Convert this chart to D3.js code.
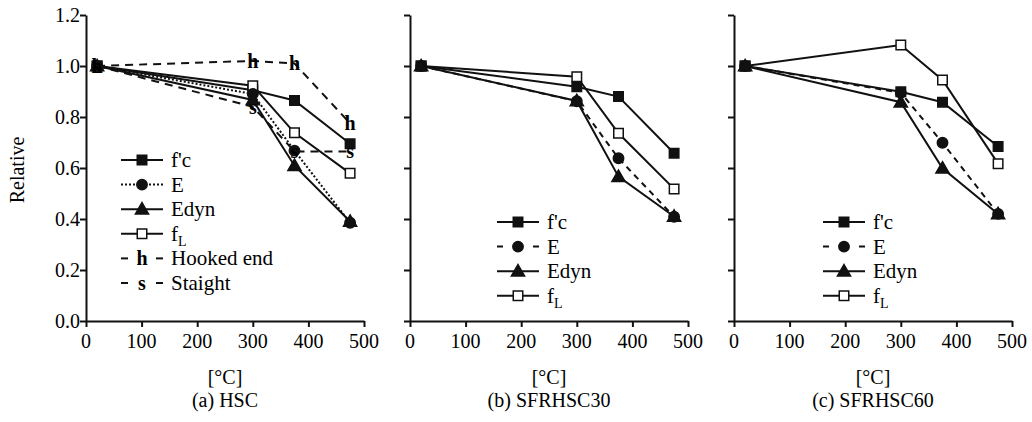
<!DOCTYPE html>
<style>
body { margin: 0; background: #fff; }
</style>
<svg width="1032" height="422"></svg>
<script src="https://cdn.jsdelivr.net/npm/d3@7"></script>
<script>

// temperatures where the specimens were measured
var temps = [20, 300, 375, 475];

// (a) HSC
var hscFc = [1.0, 0.905, 0.865, 0.695];
var hscE = [1.0, 0.89, 0.668, 0.385];
var hscEdyn = [1.0, 0.867, 0.609, 0.39];
var hscFl = [1.0, 0.923, 0.738, 0.579];
var hscHooked = [1.0, 1.02, 1.01, 0.775];
var hscStraight = [1.0, 0.84, 0.665, 0.665];

// (b) SFRHSC30
var s30Fc = [1.0, 0.919, 0.88, 0.658];
var s30E = [1.0, 0.862, 0.638, 0.409];
var s30Edyn = [1.0, 0.863, 0.566, 0.41];
var s30Fl = [1.0, 0.958, 0.736, 0.518];

// (c) SFRHSC60
var s60Fc = [1.0, 0.899, 0.858, 0.684];
var s60E = [1.0, 0.895, 0.699, 0.42];
var s60Edyn = [1.0, 0.858, 0.599, 0.42];
var s60Fl = [1.0, 1.082, 0.945, 0.617];

var yTicks = [0, 0.2, 0.4, 0.6, 0.8, 1.0, 1.2];
var xTicks = [0, 100, 200, 300, 400, 500];
var captions = ["(a) HSC", "(b) SFRHSC30", "(c) SFRHSC60"];

var svg = d3.select("svg");

function txt(sel, size) {
  return sel.style("font-family", "Liberation Serif").attr("font-size", size);
}

// series styles: marker kind + dash
var styles = {
  fc:   {sym: "square", fill: "#111", dash: null},
  E:    {sym: "circle", fill: "#111", dash: "6,5"},
  Edyn: {sym: "triangle", fill: "#111", dash: null},
  fL:   {sym: "square", fill: "#fff", dash: null},
  h:    {sym: "h", dash: "8,6"},
  s:    {sym: "s", dash: "8,6"}
};

var panels = [
  {left: 86, series: [
    {key: "fc", v: hscFc}, {key: "fL", v: hscFl}, {key: "E", v: hscE, dash: "2,2"},
    {key: "Edyn", v: hscEdyn}, {key: "h", v: hscHooked}, {key: "s", v: hscStraight}],
   legend: [["fc", "f'c"], ["E", "E", "2,2"], ["Edyn", "Edyn"], ["fL", "f", "L"], ["h", "Hooked end"], ["s", "Staight"]],
   legX: 121, legY: 160},
  {left: 410, series: [
    {key: "fc", v: s30Fc}, {key: "fL", v: s30Fl}, {key: "E", v: s30E}, {key: "Edyn", v: s30Edyn}],
   legend: [["fc", "f'c"], ["E", "E"], ["Edyn", "Edyn"], ["fL", "f", "L"]],
   legX: 497, legY: 222},
  {left: 734, series: [
    {key: "fc", v: s60Fc}, {key: "fL", v: s60Fl}, {key: "E", v: s60E}, {key: "Edyn", v: s60Edyn}],
   legend: [["fc", "f'c"], ["E", "E"], ["Edyn", "Edyn"], ["fL", "f", "L"]],
   legX: 823, legY: 222}
];

var y = d3.scaleLinear().domain([0, 1.2]).range([321, 15]);

function drawMarker(g, kind, fill, cx, cy) {
  if (kind === "h" || kind === "s") {
    txt(g.append("text"), 20)
      .attr("font-weight", "bold")
      .attr("x", cx).attr("y", cy + 7)
      .attr("text-anchor", "middle")
      .text(kind);
    return;
  }
  var type = kind === "square" ? d3.symbolSquare : kind === "circle" ? d3.symbolCircle : d3.symbolTriangle;
  var size = kind === "square" ? 90 : kind === "circle" ? 85 : 75;
  g.append("path")
    .attr("d", d3.symbol().type(type).size(size)())
    .attr("transform", "translate(" + cx + "," + (kind === "triangle" ? cy + 1 : cy) + ")")
    .attr("fill", fill)
    .attr("stroke", "#111")
    .attr("stroke-width", 1.5);
}

panels.forEach(function(p, pi) {
  var x = d3.scaleLinear().domain([0, 500]).range([p.left, p.left + 278]);
  var g = svg.append("g");

  // axes drawn by hand-styled d3 axis, labels added as separate texts
  var xa = g.append("g")
    .attr("transform", "translate(0,321)")
    .call(d3.axisBottom(x).tickValues(xTicks).tickFormat("").tickSize(6).tickSizeOuter(0));
  xa.selectAll("path, line").attr("stroke", "#111").attr("stroke-width", 2);
  xTicks.forEach(function(t) {
    txt(g.append("text"), 20)
      .attr("x", x(t)).attr("y", 348)
      .attr("text-anchor", "middle")
      .text(t);
  });

  var ya = g.append("g")
    .attr("transform", "translate(" + p.left + ",0)")
    .call(d3.axisLeft(y).tickValues(yTicks).tickFormat("").tickSize(6).tickSizeOuter(0));
  ya.selectAll("path, line").attr("stroke", "#111").attr("stroke-width", 2);
  if (pi === 0) {
    yTicks.forEach(function(t) {
      txt(g.append("text"), 20)
        .attr("x", p.left - 6).attr("y", y(t) + 7)
        .attr("text-anchor", "end")
        .text(d3.format(".1f")(t));
    });
  }

  var line = d3.line()
    .x(function(d, i) { return x(temps[i]); })
    .y(function(d) { return y(d); });

  p.series.forEach(function(s) {
    var st = styles[s.key];
    g.append("path")
      .datum(s.v)
      .attr("d", line)
      .attr("fill", "none")
      .attr("stroke", "#111")
      .attr("stroke-width", 2)
      .attr("stroke-dasharray", s.dash || st.dash);
  });
  p.series.forEach(function(s) {
    var st = styles[s.key];
    s.v.forEach(function(v, i) {
      drawMarker(g, st.sym, st.fill, x(temps[i]), y(v));
    });
  });

  // legend
  var leg = g.append("g");
  p.legend.forEach(function(item, i) {
    var st = styles[item[0]];
    var ly = p.legY + i * 24.6;
    var lx = p.legX;
    if (st.sym === "h" || st.sym === "s") {
      leg.append("line").attr("x1", lx).attr("x2", lx + 7).attr("y1", ly).attr("y2", ly)
        .attr("stroke", "#111").attr("stroke-width", 2);
      leg.append("line").attr("x1", lx + 35).attr("x2", lx + 42).attr("y1", ly).attr("y2", ly)
        .attr("stroke", "#111").attr("stroke-width", 2);
    } else if (item[0] === "E") {
      leg.append("line").attr("x1", lx).attr("x2", lx + 42).attr("y1", ly).attr("y2", ly)
        .attr("stroke", "#111").attr("stroke-width", 2)
        .attr("stroke-dasharray", item[2] || "6,30");
    } else {
      leg.append("line").attr("x1", lx).attr("x2", lx + 42).attr("y1", ly).attr("y2", ly)
        .attr("stroke", "#111").attr("stroke-width", 2);
    }
    drawMarker(leg, st.sym, st.fill, lx + 21, ly);
    var t = txt(leg.append("text"), 21)
      .attr("x", lx + 50).attr("y", ly + 7);
    if (item[0] === "fL") {
      t.append("tspan").text("f");
      t.append("tspan").attr("font-size", 14).attr("dy", 5).text("L");
    } else {
      t.text(item[1]);
    }
  });

  txt(g.append("text"), 20)
    .attr("x", p.left + 139).attr("y", 384)
    .attr("text-anchor", "middle")
    .text("[°C]");

  txt(g.append("text"), 20)
    .attr("x", p.left + 139).attr("y", 407)
    .attr("text-anchor", "middle")
    .text(captions[pi]);
});

txt(svg.append("text"), 20)
  .attr("transform", "translate(24,170) rotate(-90)")
  .attr("text-anchor", "middle")
  .text("Relative");

</script>
